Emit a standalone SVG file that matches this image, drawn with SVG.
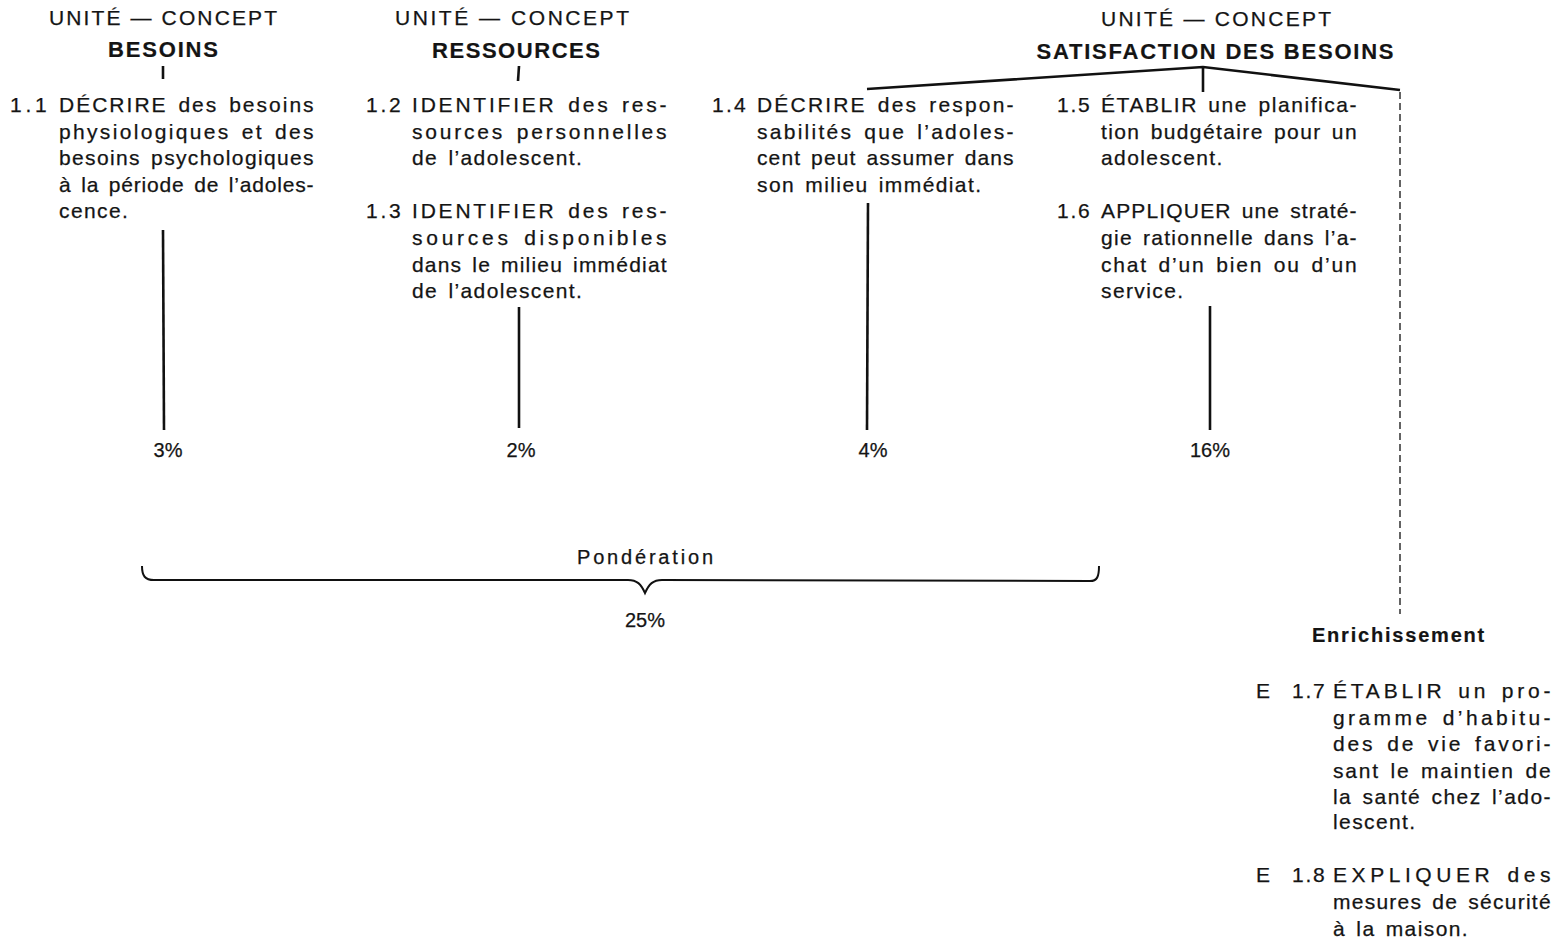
<svg xmlns="http://www.w3.org/2000/svg" width="1558" height="939" viewBox="0 0 1558 939">
<style>
text{font-family:"Liberation Sans",Arial,sans-serif;fill:#141414;stroke:#141414;stroke-width:0.25}
.t{font-size:21px;letter-spacing:1.4px;word-spacing:3px}
.h{font-size:21px}
.b{font-size:22px;font-weight:bold;stroke-width:0.2}
.p{font-size:20px}
.e{font-size:20px;font-weight:bold;letter-spacing:1.8px;stroke-width:0.2}
.ln{stroke:#111;stroke-width:2.6;fill:none}
.br{stroke:#111;stroke-width:2;fill:none}
.ds{stroke:#222;stroke-width:1.4;fill:none;stroke-dasharray:7 4}
</style>
<rect width="1558" height="939" fill="#fff"/>

<g id="unit-besoins">
<text class="h" x="163" y="25" text-anchor="middle" textLength="228" lengthAdjust="spacing">UNITÉ — CONCEPT</text>
<text class="b" x="163" y="57" text-anchor="middle" textLength="110" lengthAdjust="spacing">BESOINS</text>
</g>
<g id="unit-ressources">
<text class="h" x="512" y="25" text-anchor="middle" textLength="234" lengthAdjust="spacing">UNITÉ — CONCEPT</text>
<text class="b" x="516" y="58" text-anchor="middle" textLength="168" lengthAdjust="spacing">RESSOURCES</text>
</g>
<g id="unit-satisfaction">
<text class="h" x="1216" y="26" text-anchor="middle" textLength="230" lengthAdjust="spacing">UNITÉ — CONCEPT</text>
<text class="b" x="1215" y="59" text-anchor="middle" textLength="357" lengthAdjust="spacing">SATISFACTION DES BESOINS</text>
</g>

<g id="obj-1-1">
<text class="t" x="10" y="112" textLength="38" lengthAdjust="spacing">1.1</text>
<text class="t" x="59" y="112" textLength="256" lengthAdjust="spacing">DÉCRIRE des besoins</text>
<text class="t" x="59" y="139" textLength="256" lengthAdjust="spacing">physiologiques et des</text>
<text class="t" x="59" y="165" textLength="256" lengthAdjust="spacing">besoins psychologiques</text>
<text class="t" x="59" y="192" textLength="256" lengthAdjust="spacing">à la période de l’adoles-</text>
<text class="t" x="59" y="218">cence.</text>
</g>

<g id="obj-1-2">
<text class="t" x="366" y="112" textLength="36" lengthAdjust="spacing">1.2</text>
<text class="t" x="412" y="112" textLength="256" lengthAdjust="spacing">IDENTIFIER des res-</text>
<text class="t" x="412" y="139" textLength="256" lengthAdjust="spacing">sources personnelles</text>
<text class="t" x="412" y="165">de l’adolescent.</text>
</g>
<g id="obj-1-3">
<text class="t" x="366" y="218" textLength="36" lengthAdjust="spacing">1.3</text>
<text class="t" x="412" y="218" textLength="256" lengthAdjust="spacing">IDENTIFIER des res-</text>
<text class="t" x="412" y="245" textLength="256" lengthAdjust="spacing">sources disponibles</text>
<text class="t" x="412" y="272" textLength="256" lengthAdjust="spacing">dans le milieu immédiat</text>
<text class="t" x="412" y="298">de l’adolescent.</text>
</g>

<g id="obj-1-4">
<text class="t" x="712" y="112" textLength="35" lengthAdjust="spacing">1.4</text>
<text class="t" x="757" y="112" textLength="258" lengthAdjust="spacing">DÉCRIRE des respon-</text>
<text class="t" x="757" y="139" textLength="258" lengthAdjust="spacing">sabilités que l’adoles-</text>
<text class="t" x="757" y="165" textLength="258" lengthAdjust="spacing">cent peut assumer dans</text>
<text class="t" x="757" y="192">son milieu immédiat.</text>
</g>

<g id="obj-1-5">
<text class="t" x="1057" y="112" textLength="34" lengthAdjust="spacing">1.5</text>
<text class="t" x="1101" y="112" textLength="257" lengthAdjust="spacing">ÉTABLIR une planifica-</text>
<text class="t" x="1101" y="139" textLength="257" lengthAdjust="spacing">tion budgétaire pour un</text>
<text class="t" x="1101" y="165">adolescent.</text>
</g>
<g id="obj-1-6">
<text class="t" x="1057" y="218" textLength="34" lengthAdjust="spacing">1.6</text>
<text class="t" x="1101" y="218" textLength="257" lengthAdjust="spacing">APPLIQUER une straté-</text>
<text class="t" x="1101" y="245" textLength="257" lengthAdjust="spacing">gie rationnelle dans l’a-</text>
<text class="t" x="1101" y="272" textLength="257" lengthAdjust="spacing">chat d’un bien ou d’un</text>
<text class="t" x="1101" y="298">service.</text>
</g>

<g id="pct-besoins"><text class="p" x="168" y="457" text-anchor="middle">3%</text></g>
<g id="pct-ressources"><text class="p" x="521" y="457" text-anchor="middle">2%</text></g>
<g id="pct-responsabilites"><text class="p" x="873" y="457" text-anchor="middle">4%</text></g>
<g id="pct-satisfaction"><text class="p" x="1210" y="457" text-anchor="middle">16%</text></g>

<g id="ponderation">
<text class="p" x="645" y="564" text-anchor="middle" textLength="136" lengthAdjust="spacing">Pondération</text>
<text class="p" x="645" y="627" text-anchor="middle">25%</text>
</g>

<g id="enrichissement">
<text class="e" x="1399" y="642" text-anchor="middle">Enrichissement</text>
</g>
<g id="obj-1-7">
<text class="t" x="1256" y="698">E</text>
<text class="t" x="1292" y="698" textLength="34" lengthAdjust="spacing">1.7</text>
<text class="t" x="1333" y="698" textLength="219" lengthAdjust="spacing">ÉTABLIR un pro-</text>
<text class="t" x="1333" y="725" textLength="219" lengthAdjust="spacing">gramme d’habitu-</text>
<text class="t" x="1333" y="751" textLength="219" lengthAdjust="spacing">des de vie favori-</text>
<text class="t" x="1333" y="778" textLength="219" lengthAdjust="spacing">sant le maintien de</text>
<text class="t" x="1333" y="804" textLength="219" lengthAdjust="spacing">la santé chez l’ado-</text>
<text class="t" x="1333" y="829">lescent.</text>
</g>
<g id="obj-1-8">
<text class="t" x="1256" y="882">E</text>
<text class="t" x="1292" y="882" textLength="34" lengthAdjust="spacing">1.8</text>
<text class="t" x="1333" y="882" textLength="219" lengthAdjust="spacing">EXPLIQUER des</text>
<text class="t" x="1333" y="909" textLength="219" lengthAdjust="spacing">mesures de sécurité</text>
<text class="t" x="1333" y="936">à la maison.</text>
</g>

<g id="connectors">
<line class="ln" x1="163" y1="66" x2="163" y2="79"/>
<line class="ln" x1="519" y1="66" x2="518" y2="81"/>
<polyline class="ln" points="867,89 1203,67 1400,90"/>
<line class="ln" x1="1203" y1="66" x2="1203" y2="92"/>
<line class="ds" x1="1400" y1="92" x2="1400" y2="614"/>
<line class="ln" x1="163" y1="230" x2="164" y2="430"/>
<line class="ln" x1="519" y1="307" x2="519" y2="428"/>
<line class="ln" x1="868" y1="203" x2="867" y2="430"/>
<line class="ln" x1="1210" y1="306" x2="1210" y2="430"/>
<path class="br" d="M142,566 C142,576 145,580 154,580 L628,580 C637,580 641,584 645,593 C649,584 653,580 662,580 L1090,581 C1097,581 1099,577 1099,566"/>
</g>
</svg>
